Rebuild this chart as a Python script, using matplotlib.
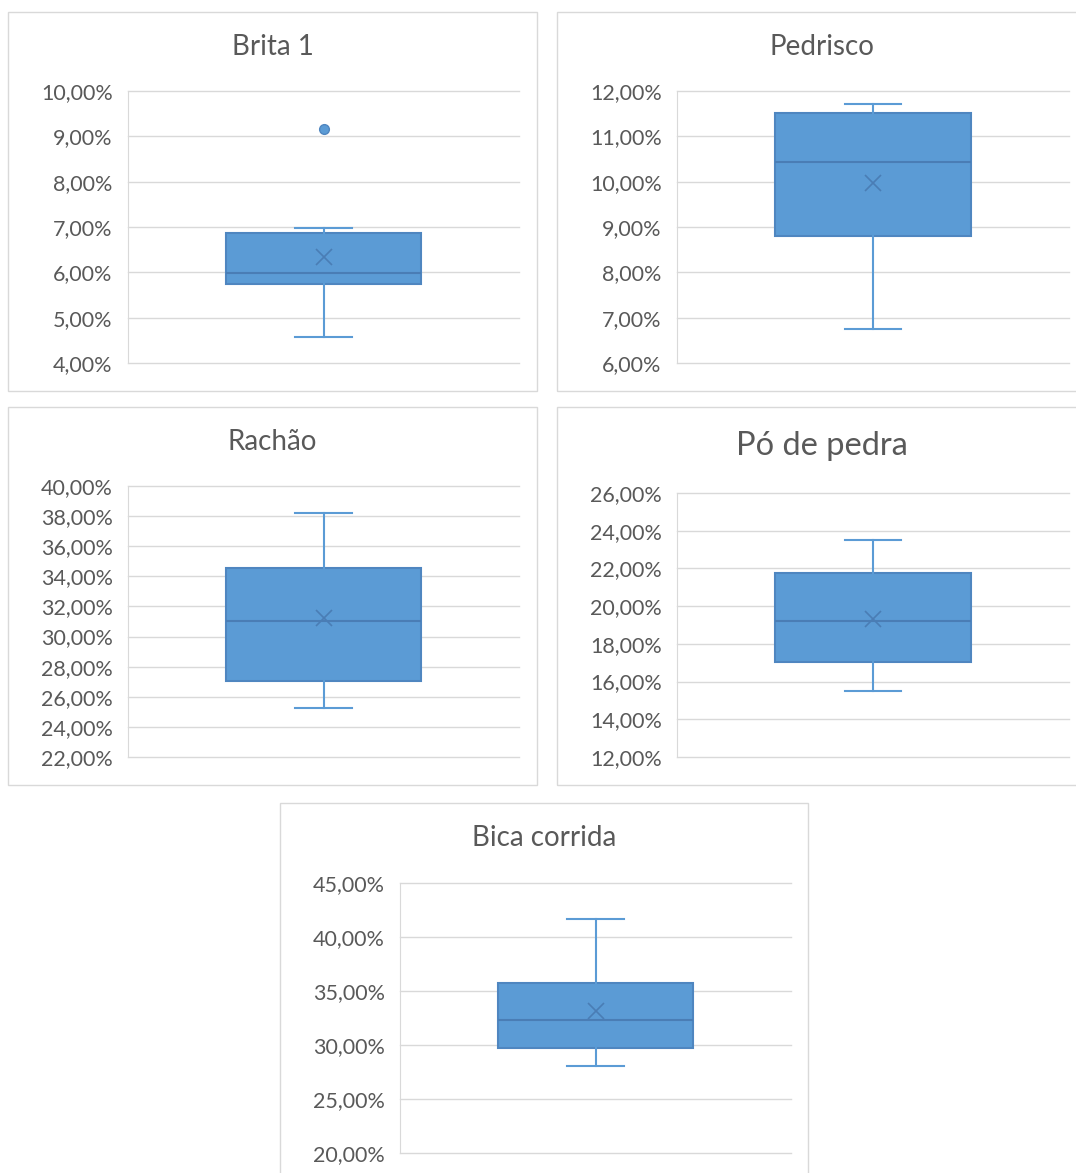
import matplotlib
matplotlib.use("Agg")
import matplotlib.pyplot as plt
from matplotlib.patches import Rectangle
from matplotlib.ticker import FuncFormatter, MultipleLocator

# Five-number summaries (percent) for each aggregate
titles = ["Brita 1", "Pedrisco", "Rachão", "Pó de pedra", "Bica corrida"]
whisker_low = [4.58, 6.74, 25.25, 15.48, 28.07]
q1 = [5.74, 8.81, 27.03, 17.02, 29.70]
median = [5.98, 10.43, 31.02, 19.23, 32.32]
q3 = [6.87, 11.51, 34.57, 21.76, 35.76]
whisker_high = [6.97, 11.71, 38.23, 23.49, 41.67]
mean = [6.34, 9.98, 31.24, 19.30, 33.15]
outliers = [[9.17], [], [], [], []]

# Axis ranges
y_min = [4, 6, 22, 12, 20]
y_max = [10, 12, 40, 26, 45]
y_step = [1, 1, 2, 2, 5]

W, H = 1076, 1173
fig = plt.figure(figsize=(W / 100, H / 100), dpi=100)
fig.patch.set_facecolor("white")

FONT = ["Lato", "DejaVu Sans"]
TEXT = "#595959"
GRID = "#D9D9D9"
BOX_FACE = "#5B9BD5"
BOX_EDGE = "#4F86C0"
DARK = "#4A7DB5"

# chart frames and plot areas in pixels (left, top, right, bottom)
frames = [(8, 12, 537, 391), (557, 12, 1086, 391), (8, 407, 537, 785),
          (557, 407, 1086, 785), (280, 803, 808, 1182)]
plots = [(128, 91, 519, 363), (677, 91, 1069, 363), (128, 486, 519, 757),
         (677, 493, 1069, 757), (400, 883, 791, 1153)]
title_y = [47, 47, 442, 446, 838]
title_size = [20, 20, 20, 23.5, 20]


def pct(v, _):
    return f"{v:.2f}".replace(".", ",") + "%"


for i, name in enumerate(titles):
    fl, ft, fr, fb = frames[i]
    fig.patches.append(Rectangle((fl / W, 1 - fb / H), (fr - fl) / W, (fb - ft) / H,
                                 transform=fig.transFigure, fill=False,
                                 edgecolor=GRID, lw=1.0, zorder=0))
    fig.text((fl + fr) / 2 / W, 1 - title_y[i] / H, name, ha="center", va="center",
             fontsize=title_size[i], color=TEXT, family=FONT)

    pl, pt, pr, pb = plots[i]
    ax = fig.add_axes([pl / W, 1 - pb / H, (pr - pl) / W, (pb - pt) / H])
    stats = [dict(med=median[i], q1=q1[i], q3=q3[i], whislo=whisker_low[i],
                  whishi=whisker_high[i], mean=mean[i], fliers=outliers[i], label="")]
    ax.bxp(stats, positions=[0.5], widths=0.5, capwidths=0.145, showmeans=True,
           patch_artist=True,
           boxprops=dict(facecolor=BOX_FACE, edgecolor=BOX_EDGE, lw=1.5),
           whiskerprops=dict(color=BOX_FACE, lw=1.5),
           capprops=dict(color=BOX_FACE, lw=1.5),
           medianprops=dict(color=DARK, lw=1.5),
           meanprops=dict(marker="x", markeredgecolor=DARK, markersize=12, mew=1.2),
           flierprops=dict(marker="o", markerfacecolor=BOX_FACE,
                           markeredgecolor=BOX_EDGE, markersize=7))
    ax.set_xlim(0, 1)
    ax.set_ylim(y_min[i], y_max[i])
    ax.yaxis.set_major_locator(MultipleLocator(y_step[i]))
    ax.yaxis.set_major_formatter(FuncFormatter(pct))
    ax.set_xticks([])
    ax.yaxis.grid(True, color=GRID, lw=1.0)
    ax.set_axisbelow(True)
    for line in ax.get_ygridlines():
        line.set_clip_on(False)
    for s in ("top", "right", "bottom"):
        ax.spines[s].set_visible(False)
    ax.spines["left"].set_color(GRID)
    ax.tick_params(axis="y", length=0, pad=11, labelsize=15.5, labelcolor=TEXT)
    for lab in ax.get_yticklabels():
        lab.set_family(FONT)

fig.savefig("out.png", dpi=100)
